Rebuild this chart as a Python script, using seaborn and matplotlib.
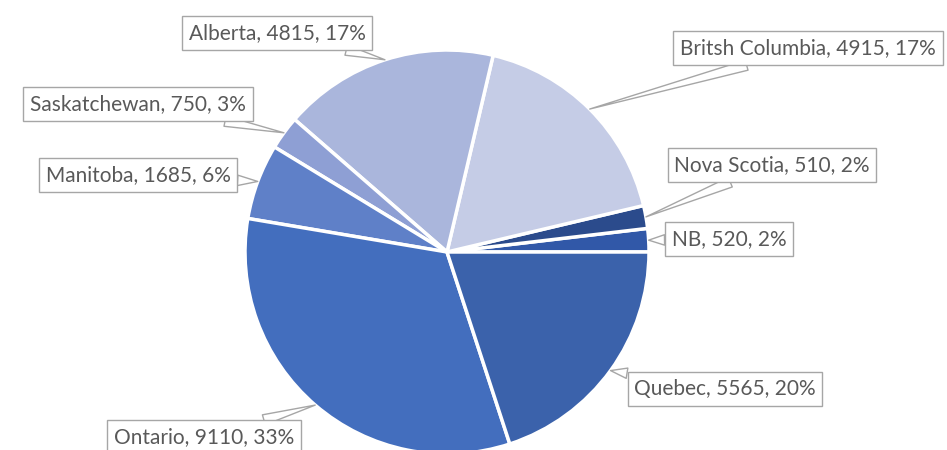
import numpy as np
import matplotlib.pyplot as plt
import seaborn as sns

sns.set_theme(style='white')
plt.rcParams['font.family'] = ['Lato', 'DejaVu Sans']

# dados (ordem anti-horaria a partir das 3 horas)
provinces = ['NB', 'Nova Scotia', 'Britsh Columbia', 'Alberta',
             'Saskatchewan', 'Manitoba', 'Ontario', 'Quebec']
counts = [520, 510, 4915, 4815, 750, 1685, 9110, 5565]
pcts = [2, 2, 17, 17, 3, 6, 33, 20]
colors = ['#3158A8', '#2B4B8C', '#C5CCE6', '#AAB6DC',
          '#8E9FD4', '#5F80C8', '#436EBE', '#3B62AB']

# centro das caixas de rotulo em pixels (origem no topo esquerdo)
label_pos = {
    'NB': (729, 239),
    'Nova Scotia': (772, 165),
    'Britsh Columbia': (808, 48),
    'Alberta': (277, 33),
    'Saskatchewan': (138, 104),
    'Manitoba': (138, 175),
    'Ontario': (204, 437),
    'Quebec': (725, 389),
}

W, H = 947, 450
cx, cy, r = 447, 252, 202

fig = plt.figure(figsize=(W / 100, H / 100), dpi=100)
ax = fig.add_axes([0, 0, 1, 1])

wedges, _ = ax.pie(counts, colors=colors, startangle=0, counterclock=True,
                   center=(cx, H - cy), radius=r,
                   wedgeprops=dict(edgecolor='white', linewidth=2.5))

for w, name, v, p in zip(wedges, provinces, counts, pcts):
    ang = np.deg2rad((w.theta1 + w.theta2) / 2)
    px = cx + r * np.cos(ang)
    py = (H - cy) + r * np.sin(ang)
    tx, ty = label_pos[name]
    ax.annotate(f'{name}, {v}, {p}%', xy=(px, py), xytext=(tx, H - ty),
                ha='center', va='center', fontsize=15, color='#595959',
                bbox=dict(boxstyle='square,pad=0.32', fc='white', ec='#A6A6A6', lw=1),
                arrowprops=dict(arrowstyle='wedge,tail_width=0.5,shrink_factor=0.5',
                                fc='white', ec='#A6A6A6', lw=1,
                                shrinkA=0, shrinkB=0))

ax.set_xlim(0, W)
ax.set_ylim(0, H)
ax.set_aspect('equal')
ax.axis('off')

fig.savefig('out.png', dpi=100)
